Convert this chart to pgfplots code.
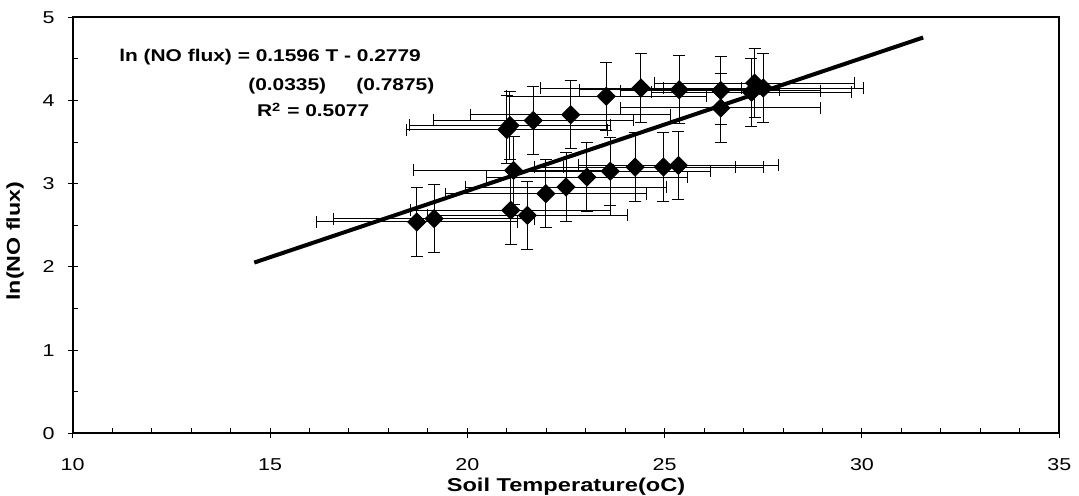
\documentclass[border=0pt]{standalone}
\usepackage{fontspec}
\setmainfont{Liberation Sans}
\usepackage{graphicx}
\usepackage{pgfplots}
\pgfplotsset{compat=1.18}
\newcommand{\sx}[1]{\scalebox{1.25}[1]{#1}}
\newcommand{\sa}[1]{\scalebox{1.23}[1]{#1}}
\pgfplotstableread{
x y ex ey
18.72 2.54 2.54 0.41
19.16 2.58 2.54 0.41
21.10 2.68 2.54 0.41
21.52 2.62 2.54 0.41
21.99 2.88 2.54 0.41
22.50 2.96 2.54 0.41
23.03 3.08 2.54 0.41
23.62 3.15 2.54 0.41
24.25 3.20 2.54 0.41
21.17 3.16 2.54 0.41
24.97 3.20 2.54 0.41
25.35 3.22 2.54 0.41
21.00 3.65 2.54 0.41
21.08 3.70 2.54 0.41
21.67 3.76 2.54 0.41
22.62 3.83 2.54 0.41
23.52 4.05 2.54 0.41
24.40 4.15 2.54 0.41
25.37 4.13 2.54 0.41
26.42 4.12 2.54 0.41
26.42 3.91 2.54 0.41
27.20 4.10 2.54 0.41
27.28 4.21 2.54 0.41
27.50 4.15 2.54 0.41
}\datatable
\begin{document}
\begin{tikzpicture}
\path[use as bounding box] (-36.35pt,-31.35pt) rectangle (503.15pt,216.65pt);
\begin{axis}[
  at={(0pt,0pt)}, anchor=south west,
  scale only axis, width=493.3pt, height=208pt,
  xmin=10, xmax=35, ymin=0, ymax=5,
  clip=false,
  xtick={10,15,20,25,30,35},
  xticklabels={\sx{10},\sx{15},\sx{20},\sx{25},\sx{30},\sx{35}},
  ytick={0,1,2,3,4,5},
  yticklabels={\sx{0},\sx{1},\sx{2},\sx{3},\sx{4},\sx{5}},
  minor x tick num=4, minor y tick num=1,
  tick pos=left, tick align=center,
  major tick length=5pt, minor tick length=2.5pt,
  tick style={black, line width=0.5pt},
  minor x tick style={yshift=1.25pt},
  minor y tick style={xshift=1.25pt},
  axis line style={black, line width=1pt},
  ticklabel style={font=\fontsize{8.6}{9}\selectfont},
  xticklabel style={yshift=-6.5pt},
  yticklabel style={xshift=-3pt},
  xlabel={\scalebox{1.27}[1]{\bfseries Soil Temperature(oC)}},
  xlabel style={at={(rel axis cs:0.5,-0.141)}, anchor=base, font=\fontsize{9.3}{11}\selectfont},
  ylabel={\scalebox{1.25}[1]{\bfseries ln(NO flux)}},
  ylabel style={at={(rel axis cs:-0.0585,0.462)}, anchor=center, font=\fontsize{9.3}{11}\selectfont},
]
\addplot[black, line width=2pt] coordinates {(14.6,2.052) (31.55,4.757)};
\addplot[only marks, black, mark=square*, mark size=3.2pt, mark options={rotate=45, fill=black},
  error bars/.cd, x dir=both, x explicit, y dir=both, y explicit,
  error mark=-,
  error bar style={black, line width=0.5pt},
  error mark options={rotate=90, black, line width=0.5pt, mark size=3pt}]
  table[x=x, y=y, x error=ex, y error=ey] {\datatable};
\begin{scope}[every node/.style={anchor=base west, inner sep=0pt, font=\fontsize{8.5}{10}\selectfont\bfseries}]
\node at (axis cs:11.17,4.466) {\sa{ln (NO flux) = 0.1596 T - 0.2779}};
\node at (axis cs:14.44,4.126) {\sa{(0.0335)}};
\node at (axis cs:17.18,4.126) {\sa{(0.7875)}};
\node at (axis cs:14.66,3.805) {\sa{R$^{\mathbf{2}}$ = 0.5077}};
\end{scope}
\end{axis}
\end{tikzpicture}
\end{document}
